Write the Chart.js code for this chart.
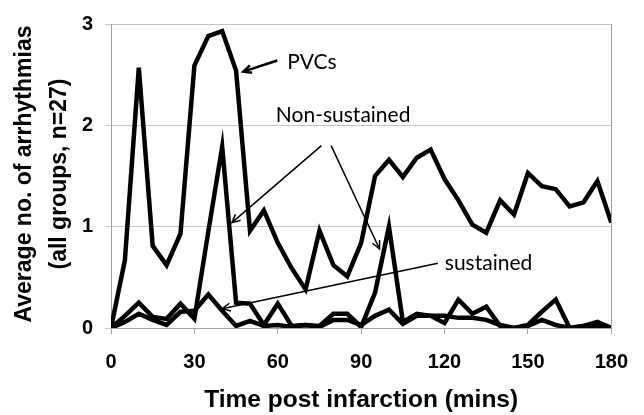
<!DOCTYPE html>
<html>
<head>
<meta charset="utf-8">
<script src="https://cdn.jsdelivr.net/npm/chart.js@4/dist/chart.umd.min.js"></script>
<style>
  html, body { margin: 0; padding: 0; background: #fff; }
  #wrap { width: 644px; height: 415px; position: relative; }
</style>
</head>
<body>
<div id="wrap"><canvas id="chart"></canvas></div>
<script>
// time points (mins)
const times = [0, 5, 10, 15, 20, 25, 30, 35, 40, 45, 50, 55, 60, 65, 70, 75, 80, 85, 90,
    95, 100, 105, 110, 115, 120, 125, 130, 135, 140, 145, 150, 155, 160, 165, 170, 175, 180];

const pvcs = [0, 0.67, 2.57, 0.81, 0.62, 0.93, 2.59, 2.88, 2.93, 2.54, 0.96, 1.16, 0.84, 0.59, 0.38, 0.96, 0.62, 0.51, 0.84,
    1.50, 1.66, 1.49, 1.68, 1.76, 1.47, 1.26, 1.02, 0.94, 1.26, 1.12, 1.53, 1.40, 1.37, 1.20, 1.24, 1.45, 1.04];

const nonSustained = [0, 0.12, 0.25, 0.11, 0.09, 0.24, 0.09, 0.95, 1.79, 0.25, 0.24, 0.03, 0.24, 0.02, 0.03, 0.02, 0.14, 0.14, 0.01,
    0.35, 1.00, 0.06, 0.14, 0.12, 0.05, 0.28, 0.14, 0.21, 0.02, 0.00, 0.03, 0.16, 0.28, 0.00, 0.02, 0.06, 0];

const sustained = [0, 0.06, 0.14, 0.08, 0.03, 0.16, 0.17, 0.33, 0.17, 0.02, 0.07, 0.02, 0.03, 0.01, 0.03, 0.01, 0.08, 0.08, 0.03,
    0.12, 0.18, 0.04, 0.12, 0.12, 0.12, 0.10, 0.10, 0.08, 0.03, 0.00, 0.02, 0.08, 0.03, 0.00, 0.02, 0.02, 0];

const xTicks = [0, 30, 60, 90, 120, 150, 180];
const yTicks = [0, 1, 2, 3];

// annotation texts and arrows, in data units
const labels = [
    { text: 'PVCs', x: 63.4, y: 2.62 },
    { text: 'Non-sustained', x: 59.3, y: 2.10 },
    { text: 'sustained', x: 120.1, y: 0.64 }
];
const arrows = [
    { from: [59.8, 2.64], to: [47.6, 2.53], width: 2.5 },
    { from: [75.7, 1.80], to: [43.5, 1.04], width: 1.5 },
    { from: [79.2, 1.80], to: [96.6, 0.78], width: 1.5 },
    { from: [117.6, 0.64], to: [40.0, 0.19], width: 1.5 }
];

const series = (vals) => times.map((t, i) => ({ x: t, y: vals[i] }));

const lineStyle = {
    borderColor: '#000',
    borderWidth: 4.5,
    pointRadius: 0,
    tension: 0,
    borderJoinStyle: 'miter',
    fill: false
};

const extras = {
    id: 'extras',
    afterDraw(chart) {
        const { ctx, chartArea, scales } = chart;
        const px = v => scales.x.getPixelForValue(v);
        const py = v => scales.y.getPixelForValue(v);
        ctx.save();

        // right border of plot
        ctx.strokeStyle = '#a0a0a0';
        ctx.lineWidth = 1;
        ctx.beginPath();
        ctx.moveTo(Math.round(chartArea.right) + 0.5, chartArea.top);
        ctx.lineTo(Math.round(chartArea.right) + 0.5, chartArea.bottom);
        ctx.stroke();

        // annotations
        ctx.fillStyle = '#000';
        ctx.font = '21px Lato';
        ctx.textBaseline = 'middle';
        ctx.textAlign = 'left';
        labels.forEach(l => ctx.fillText(l.text, px(l.x), py(l.y)));

        ctx.strokeStyle = '#000';
        arrows.forEach(a => {
            const x1 = px(a.from[0]), y1 = py(a.from[1]);
            const x2 = px(a.to[0]), y2 = py(a.to[1]);
            const ang = Math.atan2(y2 - y1, x2 - x1);
            const h = 9, spread = 0.45;
            ctx.lineWidth = a.width;
            ctx.beginPath();
            ctx.moveTo(x1, y1);
            ctx.lineTo(x2, y2);
            ctx.moveTo(x2 - h * Math.cos(ang - spread), y2 - h * Math.sin(ang - spread));
            ctx.lineTo(x2, y2);
            ctx.lineTo(x2 - h * Math.cos(ang + spread), y2 - h * Math.sin(ang + spread));
            ctx.stroke();
        });

        // axis titles
        ctx.font = 'bold 24.5px "Liberation Sans", Arial';
        ctx.textAlign = 'center';
        ctx.textBaseline = 'alphabetic';
        ctx.fillText('Time post infarction (mins)', (chartArea.left + chartArea.right) / 2, 407);

        ctx.font = 'bold 23px "Liberation Sans", Arial';
        ctx.translate(0, 174);
        ctx.rotate(-Math.PI / 2);
        ctx.textBaseline = 'middle';
        ctx.fillText('Average no. of arrhythmias', 0, 25);
        ctx.fillText('(all groups, n=27)', 0, 60);
        ctx.restore();
    }
};

new Chart(document.getElementById('chart'), {
    type: 'line',
    data: {
        datasets: [
            { label: 'PVCs', data: series(pvcs), ...lineStyle },
            { label: 'Non-sustained', data: series(nonSustained), ...lineStyle },
            { label: 'sustained', data: series(sustained), ...lineStyle }
        ]
    },
    options: {
        responsive: true,
        maintainAspectRatio: false,
        animation: false,
        layout: { padding: { top: 15, right: 19, left: 0, bottom: 0 } },
        plugins: {
            legend: { display: false },
            tooltip: { enabled: false }
        },
        scales: {
            x: {
                type: 'linear',
                min: 0,
                max: 180,
                afterBuildTicks: s => { s.ticks = xTicks.map(v => ({ value: v })); },
                afterFit: s => { s.height = 87; },
                grid: { drawOnChartArea: false, drawTicks: true, tickLength: 6, color: '#a0a0a0' },
                border: { color: '#a0a0a0', width: 1 },
                ticks: {
                    color: '#000',
                    padding: 16,
                    maxRotation: 0,
                    font: { family: '"Liberation Sans", Arial', size: 20, weight: 'bold' }
                }
            },
            y: {
                min: 0,
                max: 3,
                afterBuildTicks: s => { s.ticks = yTicks.map(v => ({ value: v })); },
                afterFit: s => { s.width = 111; },
                grid: { color: '#c4c4c4', lineWidth: 1, drawTicks: true, tickLength: 6 },
                border: { color: '#a0a0a0', width: 1 },
                ticks: {
                    color: '#000',
                    padding: 12,
                    font: { family: '"Liberation Sans", Arial', size: 20, weight: 'bold' }
                }
            }
        }
    },
    plugins: [extras]
});
</script>
</body>
</html>
